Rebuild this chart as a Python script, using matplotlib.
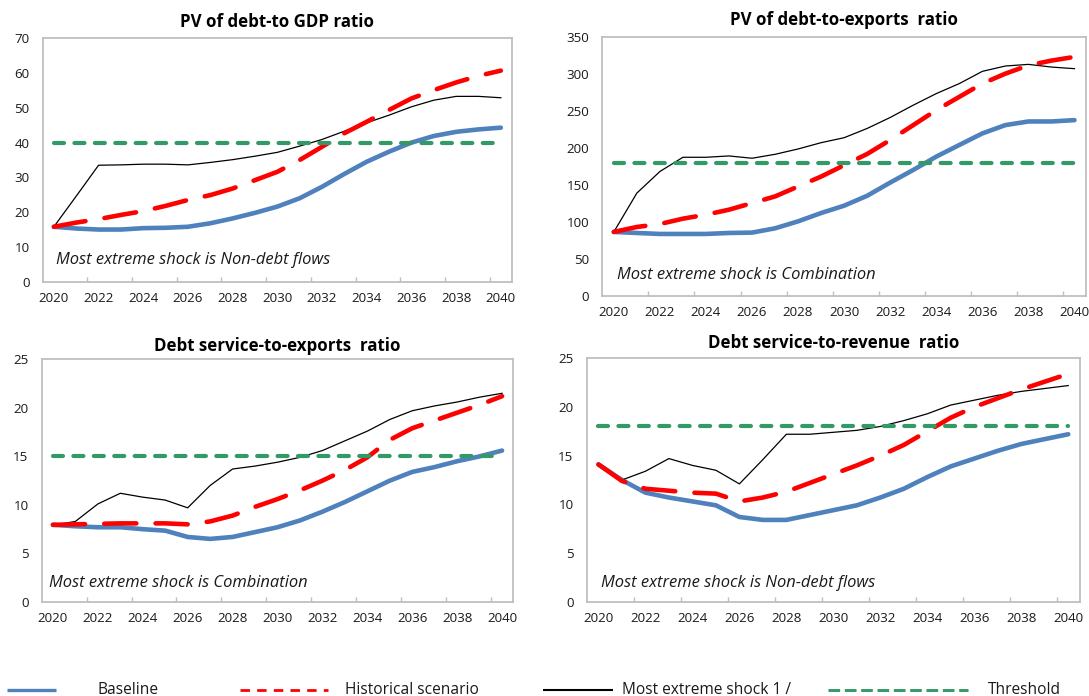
import matplotlib
matplotlib.use("Agg")
import matplotlib.pyplot as plt
from matplotlib.lines import Line2D
import numpy as np

plt.rcParams['font.family'] = ['Open Sans', 'DejaVu Sans']

W, H = 1089, 696

years = list(range(2020, 2041))
year_labels = [str(y) for y in years[::2]]

# PV of debt-to-GDP ratio
gdp_baseline = [15.8, 15.3, 15.0, 15.0, 15.4, 15.5, 15.8, 16.8, 18.2, 19.8, 21.6,
                24.0, 27.3, 31.0, 34.5, 37.4, 40.0, 41.9, 43.1, 43.8, 44.3]
gdp_historical = [15.8, 17.0, 18.0, 19.2, 20.3, 21.8, 23.5, 24.9, 26.8, 29.2, 31.6,
                  35.0, 38.8, 42.7, 46.0, 49.4, 52.7, 55.1, 57.3, 59.2, 60.7]
gdp_extreme = [15.8, 24.6, 33.5, 33.6, 33.8, 33.8, 33.6, 34.3, 35.1, 36.1, 37.2,
               39.0, 40.9, 43.3, 45.7, 47.9, 50.3, 52.2, 53.3, 53.3, 52.9]
gdp_threshold = 40

# PV of debt-to-exports ratio
exp_baseline = [86.4, 85.0, 83.7, 83.7, 83.7, 85.0, 85.5, 91.3, 100.7, 111.9, 121.8,
                135.2, 153.0, 170.0, 188.0, 203.7, 219.3, 230.5, 235.4, 235.4, 237.2]
exp_historical = [86.4, 93.1, 97.1, 104.3, 109.7, 116.4, 125.3, 134.3, 147.7, 161.1, 176.4,
                  191.6, 210.4, 230.5, 250.7, 268.6, 286.5, 299.9, 311.1, 317.5, 322.5]
exp_extreme = [86.4, 138.8, 167.9, 187.1, 187.1, 188.9, 185.8, 191.1, 198.3, 206.8, 213.5,
               226.0, 240.8, 257.4, 273.0, 286.5, 303.0, 310.2, 312.4, 308.8, 306.6]
exp_threshold = 180

# Debt service-to-exports ratio
dse_baseline = [7.95, 7.8, 7.7, 7.7, 7.5, 7.35, 6.7, 6.5, 6.7, 7.2, 7.7,
                8.4, 9.3, 10.3, 11.4, 12.5, 13.4, 13.9, 14.5, 15.0, 15.6]
dse_historical = [7.95, 8.0, 8.05, 8.1, 8.1, 8.1, 8.0, 8.3, 8.9, 9.8, 10.6,
                  11.5, 12.5, 13.6, 14.9, 16.7, 17.9, 18.7, 19.5, 20.3, 21.2]
dse_extreme = [7.9, 8.3, 10.1, 11.2, 10.8, 10.5, 9.7, 12.0, 13.7, 14.0, 14.4,
               14.9, 15.6, 16.6, 17.6, 18.8, 19.7, 20.2, 20.6, 21.1, 21.5]
dse_threshold = 15

# Debt service-to-revenue ratio
dsr_baseline = [14.1, 12.5, 11.2, 10.7, 10.3, 9.9, 8.7, 8.4, 8.4, 8.9, 9.4,
                9.9, 10.7, 11.6, 12.8, 13.9, 14.7, 15.5, 16.2, 16.7, 17.2]
dsr_historical = [14.1, 12.4, 11.6, 11.4, 11.2, 11.1, 10.3, 10.7, 11.3, 12.2, 13.1,
                  14.0, 15.0, 16.1, 17.5, 18.9, 20.0, 20.9, 21.8, 22.6, 23.4]
dsr_extreme = [14.2, 12.5, 13.4, 14.7, 14.0, 13.5, 12.1, 14.6, 17.2, 17.2, 17.4,
               17.6, 18.0, 18.6, 19.3, 20.2, 20.7, 21.2, 21.6, 21.9, 22.2]
dsr_threshold = 18

C_BASE = '#4F81BD'
C_HIST = '#FF0000'
C_EXT = '#000000'
C_THR = '#339966'
C_SPINE = '#BFBFBF'
C_TEXT = '#1a1a1a'

panels = [
    dict(rect=(42.7, 512.0, 38.3, 281.7), title="PV of debt-to GDP ratio", title_y=22,
         base=gdp_baseline, hist=gdp_historical, ext=gdp_extreme, thr=gdp_threshold,
         ymax=70, ystep=10, note="Most extreme shock is Non-debt flows", note_xy=(55.6, 260)),
    dict(rect=(602.3, 1086.0, 36.5, 296.0), title="PV of debt-to-exports  ratio", title_y=20,
         base=exp_baseline, hist=exp_historical, ext=exp_extreme, thr=exp_threshold,
         ymax=350, ystep=50, note="Most extreme shock is Combination", note_xy=(617, 275)),
    dict(rect=(41.7, 513.3, 359.3, 602.0), title="Debt service-to-exports  ratio", title_y=346,
         base=dse_baseline, hist=dse_historical, ext=dse_extreme, thr=dse_threshold,
         ymax=25, ystep=5, note="Most extreme shock is Combination", note_xy=(48.7, 583)),
    dict(rect=(586.7, 1080.0, 358.3, 601.7), title="Debt service-to-revenue  ratio", title_y=343,
         base=dsr_baseline, hist=dsr_historical, ext=dsr_extreme, thr=dsr_threshold,
         ymax=25, ystep=5, note="Most extreme shock is Non-debt flows", note_xy=(600.6, 583)),
]

fig = plt.figure(figsize=(W / 100, H / 100), dpi=100)
fig.patch.set_facecolor('white')

x = np.arange(len(years))

for p in panels:
    l, r, t, b = p['rect']
    ax = fig.add_axes([l / W, 1 - b / H, (r - l) / W, (b - t) / H])
    ax.plot(x, p['base'], color=C_BASE, lw=3.3, solid_capstyle='round',
            solid_joinstyle='round', zorder=2)
    ax.plot(x, p['ext'], color=C_EXT, lw=0.9, zorder=3)
    ax.plot(x, p['hist'], color=C_HIST, lw=3.3, linestyle=(0, (7.0, 4.2)),
            dash_capstyle='round', zorder=4)
    ax.plot(x, [p['thr']] * len(x), color=C_THR, lw=3.0, linestyle=(0, (2.4, 2.5)),
            dash_capstyle='round', zorder=5)

    ax.set_xlim(-0.5, len(years) - 0.5)
    ax.set_ylim(0, p['ymax'])
    ax.set_yticks(np.arange(0, p['ymax'] + 0.1, p['ystep']))
    ax.set_xticks(x[::2])
    ax.set_xticklabels(year_labels)
    ax.set_xticks(np.arange(1.5, len(years) - 1, 2), minor=True)
    ax.tick_params(axis='x', which='major', length=0, pad=7.5, labelsize=9.6, colors=C_TEXT)
    ax.tick_params(axis='x', which='minor', direction='in', length=3.5, width=1.0,
                   color=C_SPINE)
    ax.tick_params(axis='y', which='both', length=0, pad=9.5, labelsize=9.6, colors=C_TEXT)
    for s in ax.spines.values():
        s.set_color(C_SPINE)
        s.set_linewidth(1.3)

    fig.text((l + r) / 2 / W, 1 - p['title_y'] / H, p['title'], ha='center', va='center',
             fontsize=12.2, fontweight='bold', color='black')
    nx, ny = p['note_xy']
    fig.text(nx / W, 1 - ny / H, p['note'], ha='left', va='center', fontsize=11.9,
             style='italic', color=C_TEXT)

# Legend row along the bottom edge
leg_y = 1 - 690.3 / H
txt_y = 1 - 694.0 / H
handles = [
    dict(x0=6.7, x1=56.0, color=C_BASE, lw=2.4, ls='-', label="Baseline", tx=97.7),
    dict(x0=240.0, x1=328.0, color=C_HIST, lw=2.0, ls=(0, (3.4, 2.6)), label="Historical scenario", tx=345.0),
    dict(x0=542.5, x1=612.7, color=C_EXT, lw=1.5, ls='-', label="Most extreme shock 1 /", tx=622.0),
    dict(x0=827.7, x1=967.8, color=C_THR, lw=2.1, ls=(0, (4.0, 1.6)), label="Threshold", tx=987.4),
]
for h in handles:
    fig.add_artist(Line2D([h['x0'] / W, h['x1'] / W], [leg_y, leg_y],
                          transform=fig.transFigure, color=h['color'], lw=h['lw'],
                          linestyle=h['ls'], solid_capstyle='butt', dash_capstyle='butt'))
    fig.text(h['tx'] / W, txt_y, h['label'], ha='left', va='baseline', fontsize=11.2,
             color=C_TEXT)

fig.savefig('out.png', dpi=100, facecolor='white')
